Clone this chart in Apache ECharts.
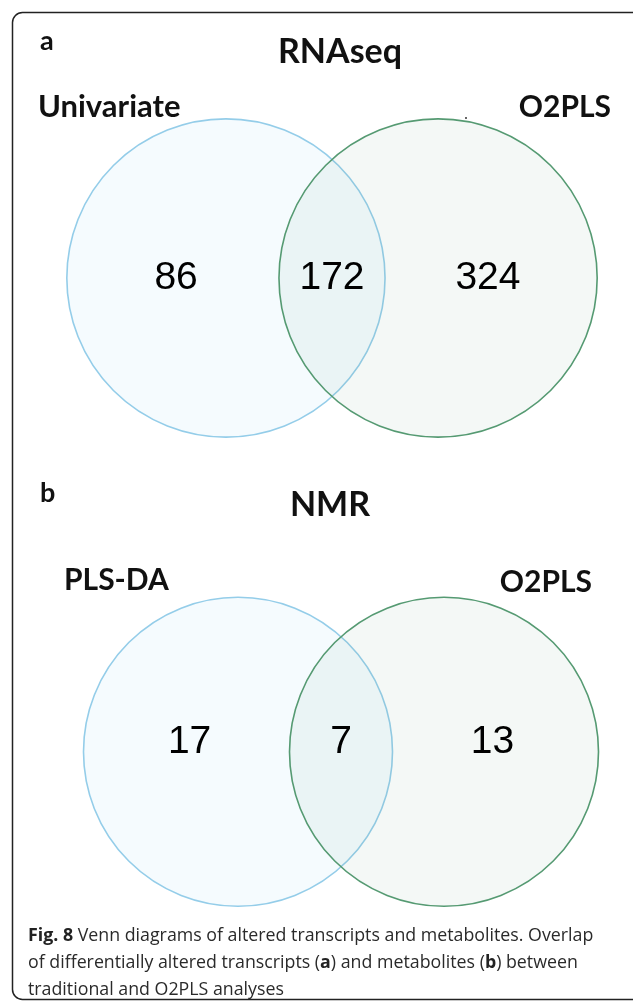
<!DOCTYPE html>
<html>
<head>
<meta charset="utf-8">
<script src="https://cdn.jsdelivr.net/npm/echarts@6/dist/echarts.min.js"></script>
<style>
  html, body { margin: 0; padding: 0; background: #ffffff; }
  #chart { width: 633px; height: 1004px; }
</style>
</head>
<body>
<div id="chart"></div>
<script>
// Panel a: transcripts (RNAseq)
const panelATag = 'a';
const panelATitle = 'RNAseq';
const panelASets = ['Univariate', 'O2PLS'];
const panelACounts = [86, 172, 324];   // left only, shared, right only

// Panel b: metabolites (NMR)
const panelBTag = 'b';
const panelBTitle = 'NMR';
const panelBSets = ['PLS-DA', 'O2PLS'];
const panelBCounts = [17, 7, 13];      // left only, shared, right only

// Figure caption
const captionBold = 'Fig. 8';
const captionLines = [
  ' Venn diagrams of altered transcripts and metabolites. Overlap',
  'of differentially altered transcripts (',
  ') and metabolites (',
  ') between',
  'traditional and O2PLS analyses'
];

// Layout in axis units: circle centres sit at x = -1 and x = +1
const CENTER_OFFSET = 1;
const RADIUS = 1.5;
const LABEL_X = 1.47;

const circleStyles = [
  { fill: 'rgba(190, 225, 250, 0.15)', stroke: '#94cde9' },
  { fill: 'rgba(110, 160, 130, 0.075)', stroke: '#559a72' }
];

const headFont = 'Lato, "Open Sans", sans-serif';
const numFont = '"Liberation Sans", Arial, sans-serif';

function vennSeries(axisIndex, sets, counts, labelLift) {
  return [
    {
      type: 'custom',
      xAxisIndex: axisIndex,
      yAxisIndex: axisIndex,
      silent: true,
      clip: false,
      data: sets.map((name, i) => ({ name, value: [i === 0 ? -CENTER_OFFSET : CENTER_OFFSET, 0, i] })),
      renderItem(params, api) {
        const c = api.coord([api.value(0), api.value(1)]);
        const s = api.size([RADIUS, RADIUS]);
        const st = circleStyles[api.value(2)];
        return {
          type: 'circle',
          shape: { cx: c[0], cy: c[1], r: s[0] },
          style: { fill: st.fill, stroke: st.stroke, lineWidth: 1.6 }
        };
      }
    },
    {
      type: 'scatter',
      xAxisIndex: axisIndex,
      yAxisIndex: axisIndex,
      silent: true,
      symbolSize: 0,
      itemStyle: { color: '#000000' },
      data: counts.map((v, i) => [(i - 1) * LABEL_X, labelLift, v]),
      label: {
        show: true,
        position: 'inside',
        formatter: p => String(p.value[2]),
        fontFamily: numFont,
        fontSize: 39,
        color: '#000000',
        textBorderWidth: 0,
        opacity: 1
      }
    }
  ];
}

function hiddenAxis(index, min, max) {
  return {
    gridIndex: index, type: 'value', min, max,
    show: false, splitLine: { show: false }
  };
}

const chart = echarts.init(document.getElementById('chart'), null, { renderer: 'canvas' });

const headText = (text, x, y, size, align) => ({
  type: 'text', x, y, silent: true,
  style: {
    text, fontFamily: headFont, fontWeight: 'bold', fontSize: size,
    fill: '#111111', textAlign: align || 'left', textVerticalAlign: 'middle'
  }
});

chart.setOption({
  backgroundColor: '#ffffff',
  animation: false,
  grid: [
    { left: 35, width: 594, top: 108, height: 340 },
    { left: 52.6, width: 576.8, top: 587, height: 329.6 }
  ],
  xAxis: [hiddenAxis(0, -2.8, 2.8), hiddenAxis(1, -2.8, 2.8)],
  yAxis: [hiddenAxis(0, -1.6, 1.6), hiddenAxis(1, -1.6, 1.6)],
  series: [
    ...vennSeries(0, panelASets, panelACounts, 0),
    ...vennSeries(1, panelBSets, panelBCounts, 0.09)
  ],
  graphic: [
    {
      type: 'rect',
      shape: { x: 12.5, y: 12.5, width: 640, height: 987, r: 10 },
      style: { fill: 'none', stroke: '#222222', lineWidth: 1.5 },
      silent: true
    },
    headText(panelATag, 40, 41, 27),
    headText(panelATitle, 340, 52, 34, 'center'),
    headText(panelASets[0], 38, 107, 31),
    headText(panelASets[1], 611, 107, 30, 'right'),
    { type: 'circle', shape: { cx: 466, cy: 118, r: 1 }, style: { fill: '#333' }, silent: true },
    headText(panelBTag, 40, 493, 27),
    headText(panelBTitle, 330, 505, 34, 'center'),
    headText(panelBSets[0], 64, 580, 30),
    headText(panelBSets[1], 592, 582, 30, 'right'),
    {
      type: 'text', x: 28, y: 922,
      style: {
        text: '{b|' + captionBold + '}' + captionLines[0] + '\n' +
              captionLines[1] + '{b|a}' + captionLines[2] + '{b|b}' + captionLines[3] + '\n' +
              captionLines[4],
        fontFamily: '"Open Sans", sans-serif',
        fontSize: 17.8,
        lineHeight: 27,
        fill: '#2a2a2a',
        rich: {
          b: { fontFamily: '"Open Sans", sans-serif', fontWeight: 'bold', fontSize: 17.8, lineHeight: 27, fill: '#222222' }
        }
      },
      silent: true
    }
  ]
});
</script>
</body>
</html>
